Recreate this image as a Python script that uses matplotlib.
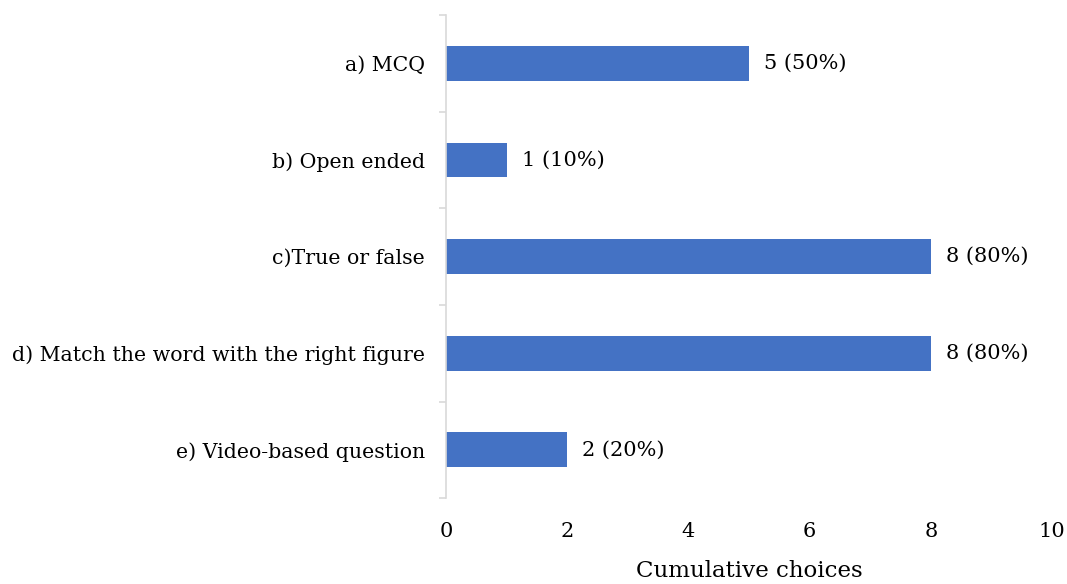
import matplotlib.pyplot as plt
import numpy as np

plt.rcParams['font.family'] = ['DejaVu Serif']

# data
categories = ["a) MCQ", "b) Open ended", "c)True or false",
              "d) Match the word with the right figure", "e) Video-based question"]
counts = [5, 1, 8, 8, 2]
labels = ["5 (50%)", "1 (10%)", "8 (80%)", "8 (80%)", "2 (20%)"]
xticks = [0, 2, 4, 6, 8, 10]

fig = plt.figure(figsize=(10.67, 5.84), dpi=100)
ax = fig.add_axes([0.418, 0.147, 0.568, 0.827])

y = np.arange(len(categories))
ax.barh(y, counts, height=0.36, color="#4472c4")
for yi, c, lab in zip(y, counts, labels):
    ax.text(c + 0.25, yi, lab, va="center", ha="left", fontsize=15)

ax.set_xlim(0, 10)
ax.set_ylim(len(categories) - 0.5, -0.5)
ax.set_yticks(y)
ax.set_yticklabels(categories, fontsize=14.8)
ax.set_yticks(np.arange(-0.5, len(categories), 1), minor=True)
ax.tick_params(axis="y", which="major", length=0, pad=15)
ax.tick_params(axis="y", which="minor", length=5, color="#d9d9d9", width=1.2)
ax.set_xticks(xticks)
ax.set_xticklabels([str(t) for t in xticks], fontsize=15)
ax.tick_params(axis="x", length=0, pad=17)
ax.set_xlabel("Cumulative choices", fontsize=16.5, labelpad=14)

for s in ["top", "right", "bottom"]:
    ax.spines[s].set_visible(False)
ax.spines["left"].set_color("#d9d9d9")
ax.spines["left"].set_linewidth(1.2)

fig.savefig("out.png", dpi=100)
